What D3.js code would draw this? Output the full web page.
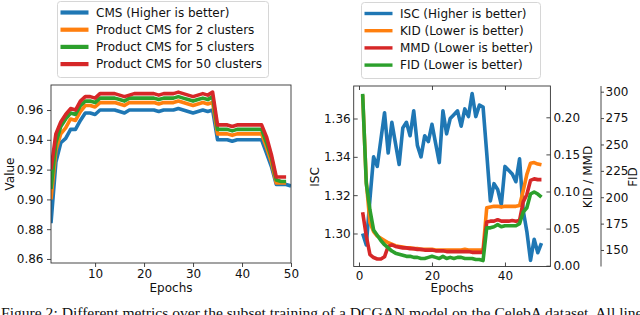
<!DOCTYPE html>
<html>
<head>
<meta charset="utf-8">
<script src="https://cdn.jsdelivr.net/npm/d3@7"></script>
<style>
  body { margin: 0; background: #fff; }
  svg { display: block; font-family: "DejaVu Sans", sans-serif; }
</style>
</head>
<body>
<script>
// ---- data ----
const epochs = d3.range(1, 51);

const cms = [
  0.884, 0.925, 0.938, 0.941, 0.947, 0.947, 0.953, 0.958, 0.958, 0.957,
  0.960, 0.960, 0.960, 0.960, 0.959, 0.958, 0.960, 0.960, 0.960, 0.960,
  0.960, 0.960, 0.959, 0.960, 0.960, 0.960, 0.961, 0.960, 0.959, 0.958,
  0.959, 0.960, 0.959, 0.960, 0.940, 0.940, 0.940, 0.939, 0.940, 0.940,
  0.940, 0.940, 0.940, 0.940, 0.931, 0.922, 0.910, 0.910, 0.910, 0.909
];
const cms2 = [
  0.900, 0.933, 0.944, 0.948, 0.954, 0.953, 0.959, 0.963, 0.963, 0.962,
  0.965, 0.965, 0.965, 0.965, 0.964, 0.963, 0.965, 0.965, 0.965, 0.965,
  0.965, 0.965, 0.964, 0.965, 0.965, 0.965, 0.966, 0.965, 0.964, 0.963,
  0.964, 0.965, 0.964, 0.965, 0.944, 0.944, 0.944, 0.943, 0.944, 0.944,
  0.944, 0.944, 0.944, 0.944, 0.935, 0.925, 0.911, 0.911, 0.911
];
const cms5 = [
  0.907, 0.938, 0.949, 0.954, 0.958, 0.957, 0.963, 0.966, 0.966, 0.965,
  0.968, 0.968, 0.968, 0.968, 0.967, 0.966, 0.968, 0.968, 0.968, 0.968,
  0.968, 0.968, 0.967, 0.968, 0.968, 0.968, 0.969, 0.968, 0.967, 0.966,
  0.967, 0.968, 0.967, 0.969, 0.947, 0.947, 0.947, 0.946, 0.947, 0.947,
  0.947, 0.947, 0.947, 0.947, 0.938, 0.928, 0.913, 0.912, 0.912
];
const cms50 = [
  0.920, 0.944, 0.952, 0.957, 0.961, 0.960, 0.966, 0.969, 0.969, 0.968,
  0.971, 0.971, 0.971, 0.971, 0.970, 0.969, 0.970, 0.971, 0.971, 0.971,
  0.971, 0.971, 0.970, 0.971, 0.971, 0.971, 0.972, 0.971, 0.970, 0.969,
  0.970, 0.971, 0.970, 0.972, 0.950, 0.950, 0.950, 0.949, 0.950, 0.950,
  0.950, 0.950, 0.950, 0.950, 0.942, 0.930, 0.915, 0.915, 0.915
];

const isc = [
  1.300, 1.294, 1.318, 1.340, 1.335, 1.349, 1.363, 1.342, 1.358, 1.347,
  1.336, 1.355, 1.358, 1.351, 1.364, 1.346, 1.340, 1.351, 1.348, 1.357,
  1.347, 1.337, 1.364, 1.352, 1.360, 1.362, 1.364, 1.356, 1.365, 1.361,
  1.373, 1.361, 1.367, 1.366, 1.342, 1.317, 1.326, 1.323, 1.315, 1.335,
  1.333, 1.331, 1.327, 1.339, 1.312, 1.301, 1.286, 1.297, 1.290, 1.295
];
const kid = [
  0.230, 0.113, 0.058, 0.046, 0.040, 0.037, 0.034, 0.031, 0.029, 0.027,
  0.026, 0.025, 0.024, 0.024, 0.023, 0.023, 0.022, 0.022, 0.022, 0.022,
  0.021, 0.021, 0.021, 0.021, 0.021, 0.021, 0.021, 0.021, 0.022, 0.021,
  0.021, 0.021, 0.021, 0.021, 0.078, 0.079, 0.080, 0.080, 0.079, 0.080,
  0.080, 0.080, 0.080, 0.081, 0.101, 0.123, 0.138, 0.139, 0.137, 0.136
];
const mmd = [
  0.072, 0.040, 0.015, 0.011, 0.009, 0.009, 0.012, 0.026, 0.028, 0.026,
  0.025, 0.024, 0.024, 0.023, 0.023, 0.022, 0.022, 0.021, 0.021, 0.021,
  0.020, 0.020, 0.020, 0.019, 0.019, 0.019, 0.019, 0.019, 0.019, 0.019,
  0.018, 0.018, 0.018, 0.018, 0.059, 0.060, 0.060, 0.062, 0.060, 0.060,
  0.060, 0.061, 0.060, 0.061, 0.086, 0.096, 0.115, 0.117, 0.116, 0.116
];
const fid = [
  298, 213, 188, 169, 164, 159, 155, 152, 149, 147,
  146, 145, 144, 144, 143, 143, 142, 142, 143, 144,
  143, 142, 144, 142, 143, 142, 143, 143, 142, 142,
  142, 141, 141, 140, 171, 171, 172, 174, 172, 173,
  173, 173, 173, 175, 186, 190, 203, 205, 203, 200
];

const leftLegend = [
  "CMS (Higher is better)",
  "Product CMS for 2 clusters",
  "Product CMS for 5 clusters",
  "Product CMS for 50 clusters"
];
const rightLegend = [
  "ISC (Higher is better)",
  "KID (Lower is better)",
  "MMD (Lower is better)",
  "FID (Lower is better)"
];

const leftXTicks = [10, 20, 30, 40, 50];
const leftYTicks = [0.86, 0.88, 0.90, 0.92, 0.94, 0.96];
const rightXTicks = [0, 20, 40];
const iscTicks = [1.30, 1.32, 1.34, 1.36];
const kidTicks = [0.00, 0.05, 0.10, 0.15, 0.20];
const fidTicks = [150, 175, 200, 225, 250, 275, 300];

// ---- style ----
const W = 640;
const H = 315;
const FONT_SIZE = 12;
const LINE_W = 3.6;
const BLUE = "#1f77b4";
const ORANGE = "#ff7f0e";
const GREEN = "#2ca02c";
const RED = "#d62728";
const SPINE = "#333";

const svg = d3.select("body").append("svg")
  .attr("width", W)
  .attr("height", H);

const styleAxis = (g) => {
  g.select(".domain").remove();
  g.selectAll("line").attr("stroke", SPINE).attr("stroke-width", 0.9);
  g.selectAll("text")
    .attr("font-family", "DejaVu Sans")
    .attr("font-size", FONT_SIZE)
    .attr("fill", "#111");
};

const drawLine = (g, x, y, values, color, width) => {
  const line = d3.line()
    .x((d, i) => x(epochs[i]))
    .y((d) => y(d));
  g.append("path")
    .attr("d", line(values))
    .attr("fill", "none")
    .attr("stroke", color)
    .attr("stroke-width", width)
    .attr("stroke-linejoin", "round")
    .attr("stroke-linecap", "butt");
};

const drawLegend = (box, labels, colors, lineW) => {
  const g = svg.append("g");
  g.append("rect")
    .attr("x", box.x + 0.5)
    .attr("y", box.y + 0.5)
    .attr("width", box.w)
    .attr("height", box.h)
    .attr("rx", 3)
    .attr("fill", "#fff")
    .attr("fill-opacity", 0.8)
    .attr("stroke", "#d6d6d6")
    .attr("stroke-width", 1);
  labels.forEach((label, i) => {
    const cy = box.y + 11.5 + i * 17.2;
    g.append("line")
      .attr("x1", box.x + 3.5)
      .attr("x2", box.x + 31.5)
      .attr("y1", cy)
      .attr("y2", cy)
      .attr("stroke", colors[i])
      .attr("stroke-width", lineW);
    g.append("text")
      .attr("x", box.x + 39)
      .attr("y", cy)
      .attr("dy", "0.36em")
      .attr("font-size", FONT_SIZE)
      .attr("fill", "#111")
      .text(label);
  });
};

// ---- left panel ----
const L = { x0: 51, x1: 291, y0: 85, y1: 263 };
const xL = d3.scaleLinear().domain([1, 50]).range([L.x0, L.x1]);
const yL = d3.scaleLinear().domain([0.8573, 0.9768]).range([L.y1, L.y0]);

const leftPlot = svg.append("g");
const leftClip = svg.append("clipPath").attr("id", "clipL");
leftClip.append("rect")
  .attr("x", L.x0).attr("y", L.y0)
  .attr("width", L.x1 - L.x0).attr("height", L.y1 - L.y0);
const leftLines = leftPlot.append("g").attr("clip-path", "url(#clipL)");
drawLine(leftLines, xL, yL, cms, BLUE, LINE_W);
drawLine(leftLines, xL, yL, cms2, ORANGE, LINE_W);
drawLine(leftLines, xL, yL, cms5, GREEN, LINE_W);
drawLine(leftLines, xL, yL, cms50, RED, LINE_W);

leftPlot.append("rect")
  .attr("x", L.x0).attr("y", L.y0)
  .attr("width", L.x1 - L.x0).attr("height", L.y1 - L.y0)
  .attr("fill", "none").attr("stroke", SPINE).attr("stroke-width", 0.9);

leftPlot.append("g")
  .attr("transform", `translate(0,${L.y1})`)
  .call(d3.axisBottom(xL).tickValues(leftXTicks).tickSize(4).tickPadding(2.5))
  .call(styleAxis);
leftPlot.append("g")
  .attr("transform", `translate(${L.x0},0)`)
  .call(d3.axisLeft(yL).tickValues(leftYTicks).tickFormat(d3.format(".2f"))
    .tickSize(4).tickPadding(3.5))
  .call(styleAxis);

leftPlot.append("text")
  .attr("x", (L.x0 + L.x1) / 2)
  .attr("y", 292)
  .attr("text-anchor", "middle")
  .attr("font-size", FONT_SIZE)
  .attr("fill", "#111")
  .text("Epochs");
leftPlot.append("text")
  .attr("transform", `translate(14,${(L.y0 + L.y1) / 2}) rotate(-90)`)
  .attr("text-anchor", "middle")
  .attr("font-size", FONT_SIZE)
  .attr("fill", "#111")
  .text("Value");

drawLegend({ x: 57, y: 1, w: 211, h: 76 }, leftLegend, [BLUE, ORANGE, GREEN, RED], 4.2);

// ---- right panel ----
const R = { x0: 353.7, x1: 550.4, y0: 86, y1: 266.5 };
const FID_X = 601;
const xR = d3.scaleLinear().domain([-1.45, 52.45]).range([R.x0, R.x1]);
const yIsc = d3.scaleLinear().domain([1.28278, 1.37696]).range([R.y1, R.y0]);
const yKid = d3.scaleLinear().domain([-0.0011, 0.2422]).range([R.y1, R.y0]);
const yFid = d3.scaleLinear().domain([134.36, 305.4]).range([R.y1, R.y0]);

const rightPlot = svg.append("g");
const rightClip = svg.append("clipPath").attr("id", "clipR");
rightClip.append("rect")
  .attr("x", R.x0).attr("y", R.y0)
  .attr("width", R.x1 - R.x0).attr("height", R.y1 - R.y0);
const rightLines = rightPlot.append("g").attr("clip-path", "url(#clipR)");
drawLine(rightLines, xR, yIsc, isc, BLUE, LINE_W);
drawLine(rightLines, xR, yKid, kid, ORANGE, LINE_W);
drawLine(rightLines, xR, yKid, mmd, RED, LINE_W);
drawLine(rightLines, xR, yFid, fid, GREEN, LINE_W);

rightPlot.append("rect")
  .attr("x", R.x0).attr("y", R.y0)
  .attr("width", R.x1 - R.x0).attr("height", R.y1 - R.y0)
  .attr("fill", "none").attr("stroke", SPINE).attr("stroke-width", 0.9);
rightPlot.append("line")
  .attr("x1", FID_X).attr("x2", FID_X)
  .attr("y1", R.y0).attr("y2", R.y1)
  .attr("stroke", SPINE).attr("stroke-width", 0.9);

// ticks point inwards on this panel
rightPlot.append("g")
  .attr("transform", `translate(0,${R.y1})`)
  .call(d3.axisBottom(xR).tickValues(rightXTicks).tickSize(-4).tickPadding(5))
  .call(styleAxis);
rightPlot.append("g")
  .attr("transform", `translate(0,${R.y0})`)
  .call(d3.axisTop(xR).tickValues(rightXTicks).tickFormat("").tickSize(-4))
  .call(styleAxis);
rightPlot.append("g")
  .attr("transform", `translate(${R.x0},0)`)
  .call(d3.axisLeft(yIsc).tickValues(iscTicks).tickFormat(d3.format(".2f"))
    .tickSize(-4).tickPadding(3))
  .call(styleAxis);
rightPlot.append("g")
  .attr("transform", `translate(${R.x1},0)`)
  .call(d3.axisRight(yKid).tickValues(kidTicks).tickFormat(d3.format(".2f"))
    .tickSize(-4).tickPadding(3))
  .call(styleAxis);
rightPlot.append("g")
  .attr("transform", `translate(${FID_X},0)`)
  .call(d3.axisRight(yFid).tickValues(fidTicks).tickSize(3).tickPadding(1.5))
  .call(styleAxis);

rightPlot.append("text")
  .attr("x", (R.x0 + R.x1) / 2)
  .attr("y", 292)
  .attr("text-anchor", "middle")
  .attr("font-size", FONT_SIZE)
  .attr("fill", "#111")
  .text("Epochs");
const rotLabel = (x, y, label) => {
  rightPlot.append("text")
    .attr("transform", `translate(${x},${y}) rotate(-90)`)
    .attr("text-anchor", "middle")
    .attr("dy", "0.35em")
    .attr("font-size", FONT_SIZE)
    .attr("fill", "#111")
    .text(label);
};
rotLabel(315, 177, "ISC");
rotLabel(588, 177, "KID / MMD");
rotLabel(632.5, 177, "FID");

drawLegend({ x: 361, y: 2, w: 179, h: 76 }, rightLegend, [BLUE, ORANGE, RED, GREEN], 3.4);

// ---- caption (the page edge cuts it, as in the source figure) ----
svg.append("text")
  .attr("x", 1)
  .attr("y", 318)
  .attr("font-family", "Liberation Serif")
  .attr("font-size", 15.6)
  .attr("fill", "#111")
  .text("Figure 2: Different metrics over the subset training of a DCGAN model on the CelebA dataset. All lines");
</script>
</body>
</html>
